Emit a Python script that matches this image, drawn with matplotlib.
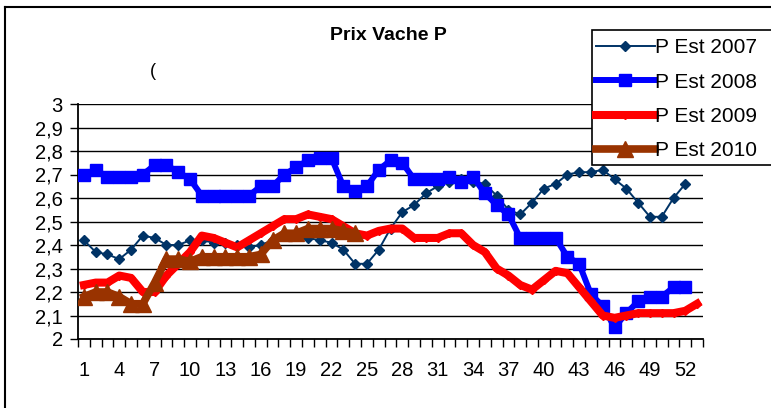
import matplotlib.pyplot as plt
from matplotlib.lines import Line2D
from matplotlib.patches import Rectangle

# weekly prices
p_est_2007 = [2.42, 2.37, 2.36, 2.34, 2.38, 2.44, 2.43, 2.40, 2.40, 2.42,
              2.42, 2.41, 2.41, 2.40, 2.39, 2.40, 2.42, 2.44, 2.44, 2.43,
              2.42, 2.41, 2.38, 2.32, 2.32, 2.38, 2.47, 2.54, 2.57, 2.62,
              2.65, 2.67, 2.68, 2.67, 2.66, 2.61, 2.55, 2.53, 2.58, 2.64,
              2.66, 2.70, 2.71, 2.71, 2.72, 2.68, 2.64, 2.58, 2.52, 2.52,
              2.60, 2.66]
p_est_2008 = [2.70, 2.72, 2.69, 2.69, 2.69, 2.70, 2.74, 2.74, 2.71, 2.68,
              2.61, 2.61, 2.61, 2.61, 2.61, 2.65, 2.65, 2.70, 2.73, 2.76,
              2.77, 2.77, 2.65, 2.63, 2.65, 2.72, 2.76, 2.75, 2.68, 2.68,
              2.68, 2.69, 2.67, 2.69, 2.62, 2.57, 2.53, 2.43, 2.43, 2.43,
              2.43, 2.35, 2.32, 2.19, 2.14, 2.05, 2.11, 2.16, 2.18, 2.18,
              2.22, 2.22]
p_est_2009 = [2.23, 2.24, 2.24, 2.27, 2.26, 2.20, 2.20, 2.27, 2.32, 2.37,
              2.44, 2.43, 2.41, 2.39, 2.42, 2.45, 2.48, 2.51, 2.51, 2.53,
              2.52, 2.51, 2.48, 2.45, 2.44, 2.46, 2.47, 2.47, 2.43, 2.43,
              2.43, 2.45, 2.45, 2.40, 2.37, 2.30, 2.27, 2.23, 2.21, 2.25,
              2.29, 2.28, 2.22, 2.16, 2.10, 2.09, 2.10, 2.11, 2.11, 2.11,
              2.11, 2.12, 2.15]
p_est_2010 = [2.18, 2.20, 2.20, 2.18, 2.15, 2.15, 2.24, 2.34, 2.34, 2.33,
              2.35, 2.35, 2.35, 2.35, 2.35, 2.36, 2.42, 2.45, 2.45, 2.47,
              2.47, 2.47, 2.46, 2.45]

series_labels = ['P Est 2007', 'P Est 2008', 'P Est 2009', 'P Est 2010']
y_ticks = [2.0, 2.1, 2.2, 2.3, 2.4, 2.5, 2.6, 2.7, 2.8, 2.9, 3.0]
x_labels = list(range(1, 54, 3))

plt.rcParams['font.family'] = ['Liberation Sans', 'DejaVu Sans']

W, H = 771, 408
fig = plt.figure(figsize=(W / 100, H / 100), dpi=100)
ax = fig.add_axes([78 / W, 1 - 339 / H, (703 - 78) / W, (339 - 104) / H])

def weeks(vals):
    return list(range(1, len(vals) + 1))

l07, = ax.plot(weeks(p_est_2007), p_est_2007, color='#003366', lw=1.4,
               marker='D', ms=5, zorder=3)
l08, = ax.plot(weeks(p_est_2008), p_est_2008, color='#0000FF', lw=4.3,
               marker='s', ms=8.5, zorder=4)
l09, = ax.plot(weeks(p_est_2009), p_est_2009, color='#FF0000', lw=5.8,
               marker='D', ms=4, zorder=5)
l10, = ax.plot(weeks(p_est_2010), p_est_2010, color='#993300', lw=5.5,
               marker='^', ms=11, zorder=6)

ax.set_xlim(0.5, 53.5)
ax.set_ylim(2, 3)
ax.set_yticks(y_ticks)
ax.set_yticklabels([('%g' % v).replace('.', ',') for v in y_ticks])
ax.yaxis.grid(True, color='black', lw=1)
ax.set_axisbelow(True)

# category labels sit between the tick marks
ax.set_xticks(x_labels)
ax.set_xticklabels([str(v) for v in x_labels])
ax.set_xticks([i + 0.5 for i in range(0, 54)], minor=True)
ax.tick_params(axis='x', which='major', length=0, pad=16, labelsize=14.5)
ax.tick_params(axis='x', which='minor', length=6, width=1, direction='out')
ax.tick_params(axis='y', length=6, width=1, pad=5, labelsize=14.5)

for s in ['top', 'right']:
    ax.spines[s].set_visible(False)
for s in ['left', 'bottom']:
    ax.spines[s].set_linewidth(1.3)

fig.text(388 / W, 1 - 35 / H, 'Prix Vache P', ha='center', va='center',
         fontsize=14, fontweight='bold')
fig.text(153 / W, 1 - 72 / H, '(', ha='center', va='center', fontsize=13)

# chart border
fig.add_artist(Line2D([5 / W, 5 / W], [0, 1 - 7 / H], color='black', lw=1.5))
fig.add_artist(Line2D([5 / W, 1], [1 - 7 / H, 1 - 7 / H], color='black', lw=1.5))

# legend box runs off the right edge
fig.add_artist(Rectangle((592 / W, 1 - 165 / H), 200 / W, 135 / H,
                         transform=fig.transFigure, fill=True, fc='white',
                         ec='black', lw=1.2, zorder=10))
leg = fig.legend([l07, l08, l09, l10], series_labels, loc='upper left',
                 bbox_to_anchor=(590 / W, 1 - 32 / H), frameon=False,
                 fontsize=15, handlelength=2.8, handletextpad=0.0,
                 labelspacing=0.74, borderpad=0.3, borderaxespad=0)
leg.set_zorder(11)

fig.savefig('out.png', dpi=100)
